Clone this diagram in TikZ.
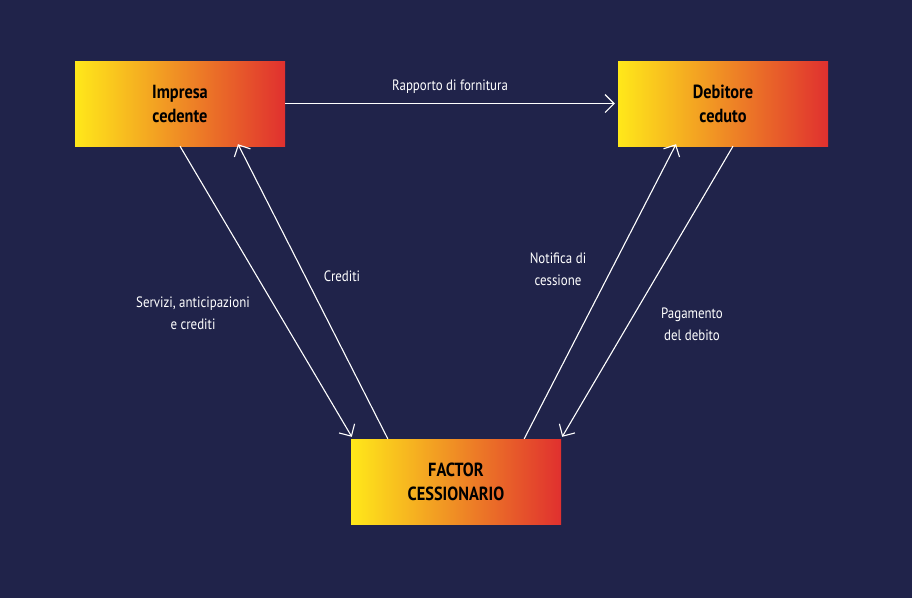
\documentclass[tikz,border=0pt]{standalone}
\usepackage{fontspec}
\setmainfont{PT Sans}[FakeStretch=0.86]
\usetikzlibrary{positioning, arrows.meta, calc}
\definecolor{bgblue}{HTML}{20234A}
\definecolor{boxyellow}{HTML}{FFE81A}
\definecolor{boxorange}{HTML}{F2A033}
\definecolor{boxred}{HTML}{E0302F}
\tikzset{
    partybox/.style={minimum width=210pt, minimum height=85pt, inner sep=0pt,
        left color=boxyellow, middle color=boxorange, right color=boxred,
        align=center, font=\fontsize{19}{24}\selectfont\bfseries, text=black},
    flow/.style={white, line width=1.1pt, -{Straight Barb[length=9pt, width=18pt, line width=1.1pt]}},
    flowlabel/.style={text=white, align=center, font=\fontsize{15}{22}\selectfont}
}
\begin{document}
\begin{tikzpicture}[x=1pt, y=-1pt]
    \fill[bgblue] (0,0) rectangle (912,598);
    \useasboundingbox (0,0) rectangle (912,598);

    % parties
    \node[partybox] (impresa) at (180,103.5) {Impresa\\cedente};
    \node[partybox] (debitore) at (723,103.5) {Debitore\\ceduto};
    \node[partybox] (factor) at (456,481.5) {FACTOR\\CESSIONARIO};

    % flows
    \draw[flow] (impresa.east) -- ($(debitore.west)+(-3,0)$);
    \draw[flow] (impresa.south) -- ($(factor.north west)+(1,-2)$);
    \draw[flow] ($(factor.north west)+(37,0)$) -- ($(impresa.south)+(58,-2)$);
    \draw[flow] ($(factor.north east)+(-37,0)$) -- ($(debitore.south)+(-47,-2)$);
    \draw[flow] ($(debitore.south)+(10,0)$) -- ($(factor.north east)+(1,-2)$);

    % labels
    \node[flowlabel] (lforn) at (450,87) {Rapporto di fornitura};
    \node[flowlabel] (lserv) at (193,313) {Servizi, anticipazioni\\e crediti};
    \node[flowlabel] (lcred) at (342,276) {Crediti};
    \node[flowlabel] (lnotif) at (558,269) {Notifica di\\cessione};
    \node[flowlabel] (lpag) at (692,324) {Pagamento\\del debito};
\end{tikzpicture}
\end{document}
